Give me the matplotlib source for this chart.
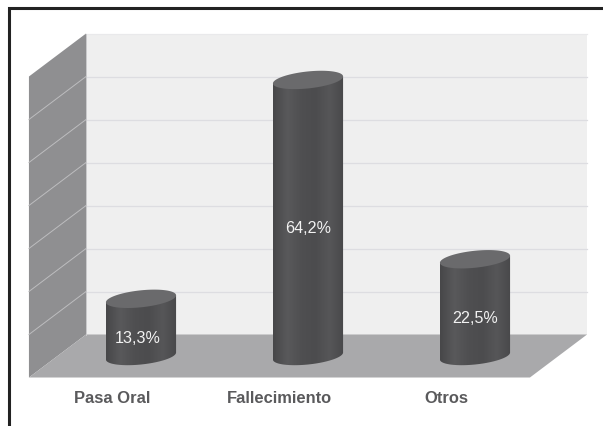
import numpy as np
import matplotlib
matplotlib.use('Agg')
import matplotlib.pyplot as plt
from matplotlib.patches import Polygon
from matplotlib.colors import LinearSegmentedColormap

categories = ['Pasa Oral', 'Fallecimiento', 'Otros']
values = [13.3, 64.2, 22.5]
value_labels = ['13,3%', '64,2%', '22,5%']
gridlines = [0, 10, 20, 30, 40, 50, 60, 70]

plt.rcParams['font.family'] = ['Liberation Sans', 'DejaVu Sans']

# 1 category = 167 px, 1 percent = 4.3 px, value 0 sits on y=0 mid depth
fig = plt.figure(figsize=(6.03, 4.27), dpi=100)
ax = fig.add_axes([0, 0, 1, 1])
xlim = (-141 / 167, (603 - 141) / 167)
ylim = ((357 - 427) / 4.3, 357 / 4.3)
ax.axis('off')

# oblique depth of the box
dx = 0.171
dy = 5.0
left, right = -0.5, 2.5
top = gridlines[-1]

# frame: only left and top show, it runs off the picture on the other sides
frame_x = -0.789
frame_y = 80.9
ax.plot([frame_x, frame_x, xlim[1]], [ylim[0], frame_y, frame_y], color='#222222', lw=2.2,
        solid_joinstyle='miter', zorder=1)

# walls
ax.add_patch(Polygon([(left + dx, dy), (right + dx, dy), (right + dx, top + dy), (left + dx, top + dy)],
                     fc='#efefef', ec='none', zorder=2))
ax.add_patch(Polygon([(left - dx, -dy), (left + dx, dy), (left + dx, top + dy), (left - dx, top - dy)],
                     fc='#8f8f91', ec='none', zorder=2))
ax.add_patch(Polygon([(left - dx, -dy), (right - dx, -dy), (right + dx, dy), (left + dx, dy)],
                     fc='#a9a9ab', ec='none', zorder=2))

for g in gridlines[1:]:
    col = '#e9e9eb' if g == top else '#dddde1'
    ax.plot([left + dx, right + dx], [g + dy, g + dy], color=col, lw=0.9, zorder=3)
    if g < top:
        ax.plot([left - dx, left + dx], [g - dy, g + dy], color='#bdbdbf', lw=0.7, zorder=3)
ax.plot([left + dx, left + dx], [dy, top + dy], color='#c9c9cb', lw=0.7, zorder=3)

# cylinders
half = 0.21
minor = 8.5 / 4.3
tilt = 3.5 / 4.3
t = np.linspace(0, 2 * np.pi, 121)
cyl_cmap = LinearSegmentedColormap.from_list('cyl', ['#474749', '#59595b', '#4f4f51', '#4c4c4e', '#565658', '#48484a'])
grad = np.linspace(0, 1, 128).reshape(1, -1)
label_shift = [-3.5 / 167, 0, 0]

for i, v in enumerate(values):
    ex = i + half * np.cos(t)
    ey = minor * np.sin(t) + tilt * np.cos(t)
    # body outline: top arc over the value, lower half of the base ellipse
    order = t >= np.pi
    body_x = np.r_[i - half, ex[order], i + half]
    body_y = np.r_[v - tilt, ey[order], v + tilt]
    body = Polygon(np.c_[body_x, body_y], fc='none', ec='none', zorder=4)
    ax.add_patch(body)
    im = ax.imshow(grad, cmap=cyl_cmap, extent=(i - half, i + half, -minor * 2, v + minor),
                   aspect='auto', zorder=4)
    im.set_clip_path(body)
    ax.add_patch(Polygon(np.c_[ex, v + ey], fc='#6a6a6c', ec='none', zorder=5))
    ax.text(i + label_shift[i], v / 2 - 2.3, value_labels[i], color='#f2f2f2', fontsize=11.6,
            ha='center', va='center', zorder=6)

# category labels sit under the floor, a bit left of the bars
label_x = [112.5, 279.5, 446]
for name, px in zip(categories, label_x):
    ax.text((px - 141) / 167, (357 - 398.5) / 4.3, name, color='#5a5a5c', fontsize=11.9,
            fontweight='bold', ha='center', va='center', zorder=6)

ax.set_xlim(*xlim)
ax.set_ylim(*ylim)
fig.savefig('out.png', dpi=100)
